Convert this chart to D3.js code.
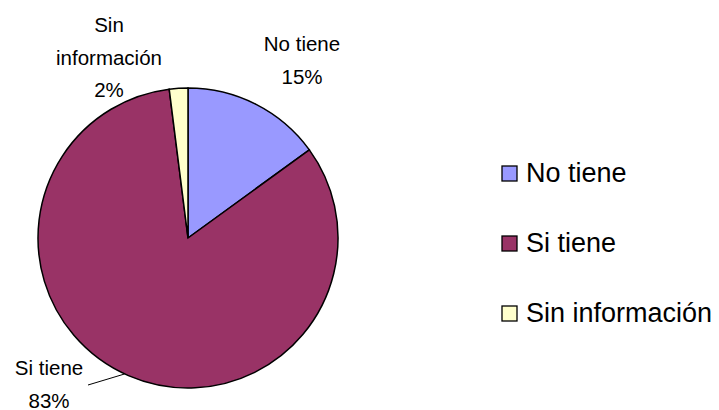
<!DOCTYPE html>
<html>
<head>
<meta charset="utf-8">
<script src="https://cdn.jsdelivr.net/npm/d3@7"></script>
<style>
  body { margin: 0; background: #fff; }
  text { font-family: "Liberation Sans", Arial, sans-serif; fill: #000; }
</style>
</head>
<body>
<svg id="chart" width="719" height="410"></svg>
<script>
// data
const categories = ["No tiene", "Si tiene", "Sin información"];
const values = [15, 83, 2];
const percentLabels = ["15%", "83%", "2%"];
const colors = ["#9999FF", "#993366", "#FFFFCC"];

// label text lines (the Sin información label is wrapped)
const labelLines = [["No tiene"], ["Si tiene"], ["Sin", "información"]];
// label position: x centre and first baseline, relative to pie centre
const labelOffsets = [[114, -187], [-139, 137], [-79, -206]];

const svg = d3.select("#chart");
const cx = 188, cy = 238, radius = 150;

const pie = d3.pie().sort(null).value(d => d);
const arc = d3.arc().innerRadius(0).outerRadius(radius);
const arcs = pie(values);

const g = svg.append("g").attr("transform", `translate(${cx},${cy})`);

g.selectAll("path.slice")
    .data(arcs)
    .enter().append("path")
    .attr("class", "slice")
    .attr("d", arc)
    .attr("fill", (d, i) => colors[i])
    .attr("stroke", "#000")
    .attr("stroke-width", 1.5)
    .attr("stroke-linejoin", "miter");

// data labels
const lineH = 32.5;
arcs.forEach((d, i) => {
    const lines = labelLines[i].concat([percentLabels[i]]);
    const [ox, oy] = labelOffsets[i];
    const t = g.append("text")
        .attr("text-anchor", "middle")
        .style("font-size", "20.5px");
    lines.forEach((ln, j) => {
        t.append("tspan")
            .attr("x", ox)
            .attr("y", oy + j * lineH)
            .text(ln);
    });
});

// leader line for Si tiene
const leaderAngle = Math.PI * 2 * 0.5694;
const edge = [radius * Math.sin(leaderAngle), -radius * Math.cos(leaderAngle)];
g.append("line")
    .attr("x1", edge[0]).attr("y1", edge[1])
    .attr("x2", labelOffsets[1][0] + 39).attr("y2", labelOffsets[1][1] + 10)
    .attr("stroke", "#000")
    .attr("stroke-width", 1);

// legend
const legend = svg.append("g").attr("transform", "translate(502,166)");
const item = legend.selectAll("g.item")
    .data(categories)
    .enter().append("g")
    .attr("class", "item")
    .attr("transform", (d, i) => `translate(0,${i * 70})`);

item.append("rect")
    .attr("width", 15).attr("height", 15)
    .attr("fill", (d, i) => colors[i])
    .attr("stroke", "#000")
    .attr("stroke-width", 1.3);

item.append("text")
    .attr("x", 24)
    .attr("y", 16)
    .style("font-size", "27px")
    .text(d => d);
</script>
</body>
</html>
